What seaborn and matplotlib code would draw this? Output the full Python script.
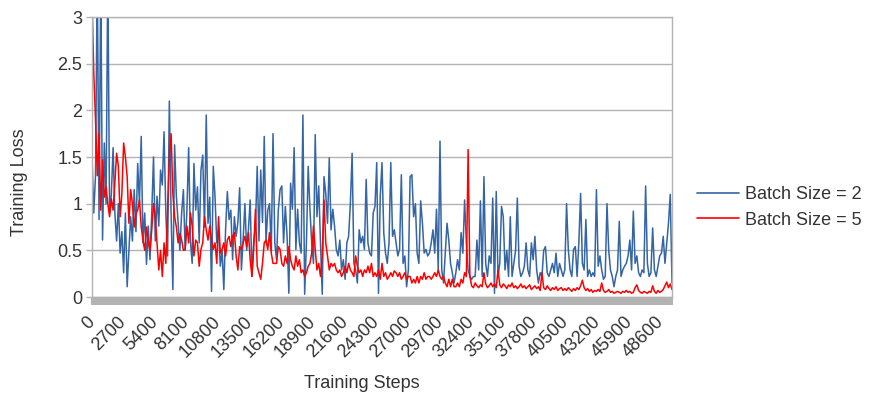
import numpy as np
import pandas as pd
import matplotlib
matplotlib.use("Agg")
import matplotlib.pyplot as plt
import seaborn as sns

# ---------------- data ----------------
step_size = 150
series_names = ["Batch Size = 2", "Batch Size = 5"]
x_tick_values = [0, 2700, 5400, 8100, 10800, 13500, 16200, 18900, 21600, 24300,
                 27000, 29700, 32400, 35100, 37800, 40500, 43200, 45900, 48600]
y_tick_values = [0, 0.5, 1, 1.5, 2, 2.5, 3]
y_tick_labels = ["0", "0.5", "1", "1.5", "2", "2.5", "3"]

loss_bs2 = [
    1.5, 0.9, 1.3, 3.5, 0.83, 3.5, 0.61, 1.65, 1.0, 3.5, 0.9, 1.1, 1.6, 0.9, 0.6, 1.0, 0.47, 0.7,
    0.26, 0.9, 0.11, 0.5, 0.86, 0.6, 1.15, 0.7, 1.43, 1.0, 1.72, 0.58, 0.9, 0.35, 0.76, 0.4, 0.9,
    1.5, 0.6, 1.08, 0.76, 1.36, 1.2, 1.77, 0.9, 0.44, 2.1, 0.9, 0.08, 1.63, 1.08, 0.8, 0.5, 0.9, 1.15,
    0.5, 0.93, 1.6, 0.6, 0.36, 1.43, 0.93, 1.18, 0.58, 1.36, 1.52, 0.75, 1.95, 0.79, 1.07, 0.06,
    1.4, 1.07, 0.58, 0.72, 0.33, 0.5, 0.08, 0.72, 1.13, 0.83, 0.93, 0.4, 0.86, 0.65, 0.8, 1.17,
    0.29, 0.62, 1.0, 0.5, 0.72, 1.04, 0.22, 0.6, 0.75, 1.4, 0.6, 1.36, 0.8, 1.72, 0.58, 0.93, 1.0,
    0.5, 1.75, 0.58, 0.4, 0.93,
    1.15, 1.19, 0.58, 0.97, 0.65, 0.04, 1.22, 0.94, 1.6, 0.51, 0.94, 0.58, 0.47, 1.95, 0.03, 0.58,
    1.4, 0.94, 0.58, 0.36, 1.74, 0.86, 1.19, 0.58, 0.03, 1.29, 1.11, 0.79, 1.49, 0.72, 0.94, 0.76,
    0.51, 0.44, 0.61, 0.29, 0.4, 0.19, 0.58, 0.65, 1.0, 1.54, 0.36, 0.29, 0.15, 0.72, 0.58, 0.65,
    0.51, 1.26, 0.58, 0.47, 0.44, 0.9,
    0.97, 1.44, 0.04, 1.08, 1.44, 0.69, 0.47, 0.36, 0.58, 1.44, 0.65, 0.72, 0.58, 0.44, 0.51, 1.31,
    0.36, 0.44, 0.11, 0.29, 1.29, 1.31, 0.86, 1.0, 0.47, 0.36, 1.03, 0.79, 0.47, 0.51, 0.44, 0.47,
    0.58, 0.72, 0.47, 0.94, 0.29, 1.67, 0.29, 0.15, 0.47, 0.79, 0.61, 0.36, 0.26, 0.15, 0.26, 0.4,
    0.29, 0.69, 0.47, 1.04, 0.58, 0.29, 0.22,
    0.19, 0.22, 0.22, 0.61, 0.29, 1.03, 0.22, 1.29, 0.36, 0.22, 0.44, 0.36, 1.06, 0.04, 1.13, 0.22,
    0.36, 0.97, 0.86, 0.29, 0.5, 0.22, 0.86, 0.22, 0.36, 0.5, 1.06, 0.33, 0.22, 0.26, 0.33, 0.58,
    0.29, 0.22, 0.58, 0.4, 0.65, 0.29, 0.15, 0.26, 0.22, 0.5, 0.54, 0.26, 0.22, 0.29, 0.36, 0.26,
    0.47, 0.22, 0.36, 0.29, 0.22, 0.29,
    1.0, 0.51, 0.29, 0.22, 0.51, 0.54, 0.22, 0.58, 1.11, 0.36, 0.29, 0.83, 0.22, 0.29, 0.22, 0.26,
    0.22, 1.15, 0.33, 0.44, 0.29, 0.19, 0.22, 1.0, 0.5, 0.29, 0.22, 0.11, 0.22, 0.29, 0.81, 0.22,
    0.29, 0.33, 0.36, 0.44, 0.61, 0.29, 0.92, 0.36, 0.44, 0.26, 0.22, 0.29, 0.26, 1.19, 0.36, 0.22,
    0.26, 0.74, 0.29, 0.22, 0.33, 0.44, 0.47, 0.65, 0.36, 0.58, 0.79, 1.1, 0.15,
]

loss_bs5 = [
    3.2, 2.4, 1.9, 1.3, 1.75, 0.93, 1.47, 1.07, 1.18, 1.0, 0.86, 1.05, 0.93, 1.22, 1.54, 1.4, 0.86,
    1.11, 1.65, 1.5, 1.29, 0.79, 1.15, 1.0, 0.75, 0.9, 0.93, 1.04, 0.75, 0.61, 0.5, 0.75, 0.58, 0.5,
    0.72, 1.0, 0.86, 0.58, 0.29, 0.5, 0.22, 0.58, 0.36, 0.93, 1.5, 1.75, 1.11, 0.86, 0.75, 0.58,
    0.68, 0.61, 0.5,
    0.51, 0.76, 0.58, 0.9, 0.76, 0.44, 0.61, 0.58, 0.33, 0.51, 0.58, 0.86, 0.72, 0.61, 0.76, 0.61,
    0.51, 0.58, 0.36, 0.86, 0.47, 0.51, 0.58, 0.44, 0.61, 0.65, 0.54, 0.65, 0.69, 0.44, 0.29, 0.54,
    0.51, 0.58, 0.65, 0.54, 0.69, 0.4, 0.22, 0.51, 0.94, 0.33, 0.26, 0.19, 0.36, 0.58, 0.61, 0.51,
    0.69, 0.47, 0.36, 0.36, 0.36, 0.54,
    0.51, 0.36, 0.33, 0.44, 0.36, 0.54, 0.4, 0.33, 0.29, 0.44, 0.33, 0.4, 0.26, 0.29, 0.22, 0.26,
    0.33, 0.36, 0.47, 0.76, 0.51, 0.29, 0.36, 0.22, 0.44, 1.04, 0.58, 0.44, 0.29, 0.36, 0.33, 0.36,
    0.29, 0.26, 0.29, 0.22, 0.26, 0.33, 0.26, 0.36, 0.29, 0.26, 0.22, 0.44, 0.33, 0.26, 0.29, 0.22,
    0.29, 0.26, 0.33, 0.26, 0.36, 0.22,
    0.26, 0.22, 0.29, 0.19, 0.36, 0.22, 0.26, 0.19, 0.22, 0.26, 0.22, 0.28, 0.26, 0.22, 0.26, 0.19,
    0.22, 0.26, 0.19, 0.22, 0.22, 0.15, 0.19, 0.15, 0.22, 0.15, 0.22, 0.19, 0.26, 0.19, 0.22, 0.22,
    0.19, 0.22, 0.26, 0.22, 0.29, 0.22, 0.19, 0.22, 0.15, 0.11, 0.19, 0.11, 0.19, 0.11, 0.11, 0.15,
    0.11, 0.19, 0.15, 0.26, 0.22, 1.58, 0.22,
    0.12, 0.1, 0.15, 0.12, 0.1, 0.13, 0.11, 0.26, 0.14, 0.1, 0.12, 0.15, 0.11, 0.14, 0.1, 0.29,
    0.13, 0.1, 0.14, 0.12, 0.09, 0.13, 0.11, 0.15, 0.1, 0.12, 0.09, 0.11, 0.14, 0.1, 0.12, 0.09,
    0.11, 0.13, 0.08, 0.1, 0.12, 0.09, 0.11, 0.07, 0.26, 0.1, 0.08, 0.12, 0.09, 0.07, 0.1, 0.08,
    0.11, 0.07, 0.09, 0.1, 0.07, 0.09,
    0.07, 0.1, 0.08, 0.06, 0.09, 0.07, 0.1, 0.08, 0.12, 0.18, 0.1, 0.07, 0.09, 0.06, 0.08, 0.05,
    0.07, 0.06, 0.08, 0.06, 0.15, 0.07, 0.05, 0.06, 0.08, 0.05, 0.06, 0.04, 0.05, 0.06, 0.05, 0.04,
    0.06, 0.05, 0.07, 0.05, 0.06, 0.04, 0.05, 0.1, 0.13, 0.07, 0.05, 0.04, 0.06, 0.05, 0.04, 0.06,
    0.05, 0.12, 0.06, 0.04, 0.07, 0.05, 0.06, 0.08, 0.12, 0.16, 0.1, 0.14, 0.08,
]

# ---------------- build table ----------------
frames = []
for name, vals in zip(series_names, [loss_bs2, loss_bs5]):
    frames.append(pd.DataFrame({
        "step": np.arange(len(vals)) * step_size,
        "loss": vals,
        "series": name,
    }))
df = pd.concat(frames, ignore_index=True)
all_steps = np.arange(max(len(loss_bs2), len(loss_bs5))) * step_size

# ---------------- style ----------------
sns.set_style("white")
plt.rcParams["font.family"] = ["Liberation Sans", "DejaVu Sans"]
text_color = "#333333"
grid_color = "#b3b3b3"
blue = "#3465a4"
red = "#ff0000"
fs = 13

fig = plt.figure(figsize=(8.7, 3.96), dpi=100)
ax = fig.add_axes([92 / 870, 1 - 297 / 396, 580 / 870, 280 / 396])

sns.lineplot(data=df, x="step", y="loss", hue="series", palette=[blue, red],
             hue_order=series_names, linewidth=1.1, estimator=None, ax=ax)

ax.set_xlim(0, all_steps[-1])
ax.set_ylim(0, 3)
ax.set_yticks(y_tick_values)
ax.set_yticklabels(y_tick_labels)
ax.yaxis.grid(True, color=grid_color, linewidth=1.0)
ax.xaxis.grid(False)
ax.set_axisbelow(True)
for s in ax.spines.values():
    s.set_color(grid_color)
    s.set_linewidth(1.0)

ax.tick_params(axis="y", length=4.5, width=1, color=grid_color, labelsize=fs,
               labelcolor=text_color, pad=2.5, left=True)
ax.set_xticks(x_tick_values)
ax.set_xticklabels([str(v) for v in x_tick_values])
ax.set_xticks(all_steps, minor=True)
ax.tick_params(axis="x", which="both", length=6, width=1.5, color=grid_color,
               direction="out", bottom=True)
ax.tick_params(axis="x", which="major", labelsize=fs, labelcolor=text_color, pad=10)
for lab in ax.get_xticklabels():
    lab.set_rotation(45)
    lab.set_ha("right")
    lab.set_va("center")
    lab.set_rotation_mode("anchor")

ax.set_xlabel("")
ax.set_ylabel("")
fig.text(20 / 870, 1 - 182 / 396, "Training Loss", rotation=90, ha="center", va="center",
         fontsize=fs, color=text_color)
fig.text(362 / 870, 1 - 383 / 396, "Training Steps", ha="center", va="center",
         fontsize=fs, color=text_color)

handles, labels = ax.get_legend_handles_labels()
if ax.get_legend() is not None:
    ax.get_legend().remove()
leg = fig.legend(handles, labels, loc="center left", bbox_to_anchor=(681 / 870, 1 - 207.5 / 396),
                 frameon=False, fontsize=fs, handlelength=2.3, handletextpad=0.35,
                 labelspacing=0.45, labelcolor=text_color)
for h in leg.get_lines():
    h.set_linewidth(1.2)

fig.savefig("out.png", dpi=100)
